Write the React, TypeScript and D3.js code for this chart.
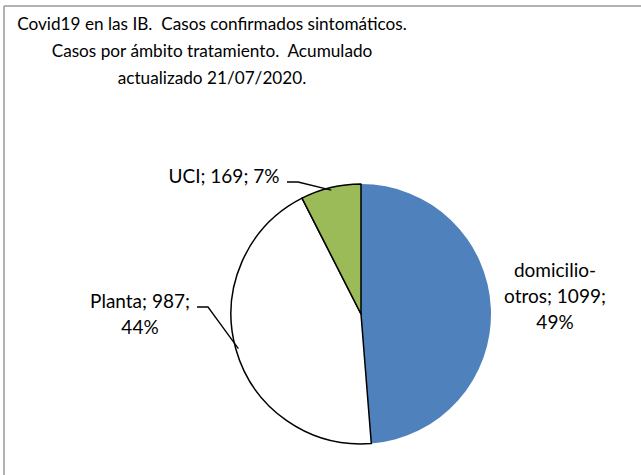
import React from "react";
import { arc, pie, PieArcDatum } from "d3";

// data
const categories = ["domicilio-otros", "Planta", "UCI"];
const values = [1099, 987, 169];
const colors = ["#4F81BD", "#FFFFFF", "#9BBB59"];
const titleLines = [
  "Covid19 en las IB.  Casos confirmados sintomáticos.",
  "Casos por ámbito tratamiento.  Acumulado",
  "actualizado 21/07/2020.",
];

const WIDTH = 641;
const HEIGHT = 475;
const CX = 361;
const CY = 314;
const R = 130;
const FONT = "Lato, 'Open Sans', sans-serif";

type Slice = { name: string; value: number; color: string };

// label layout: anchor of the text block, leader start + elbow (if any)
const labelLayout: { x: number; y: number; elbow?: [number, number]; start?: [number, number] }[] = [
  { x: 555, y: 277 },
  { x: 140, y: 308, start: [197, 307], elbow: [208, 307] },
  { x: 224, y: 183, start: [287, 182], elbow: [298, 182] },
];

export default function App() {
  const data: Slice[] = categories.map((c, i) => ({ name: c, value: values[i], color: colors[i] }));
  const total = values.reduce((a, b) => a + b, 0);

  const arcs = pie<Slice>()
    .sort(null)
    .value(d => d.value)(data);

  const arcGen = arc<PieArcDatum<Slice>>().innerRadius(0).outerRadius(R);

  const labelText = (d: Slice) => {
    const pct = Math.round((d.value / total) * 100) + "%";
    if (d.name === "domicilio-otros") return ["domicilio-", `otros; ${d.value};`, pct];
    if (d.name === "Planta") return [`${d.name}; ${d.value};`, pct];
    return [`${d.name}; ${d.value}; ${pct}`];
  };

  return (
    <div style={{ position: "absolute", left: 0, top: 0 }}>
      <svg width={WIDTH} height={HEIGHT} style={{ display: "block", background: "#fff" }}>
        {/* chart area border (top + left visible) */}
        <line x1={4} y1={6} x2={WIDTH} y2={6} stroke="#9a9a9a" strokeWidth={1.5} />
        <line x1={4} y1={6} x2={4} y2={HEIGHT} stroke="#9a9a9a" strokeWidth={1.5} />

        <g fontFamily={FONT} fontSize={17.2} fill="#000" textAnchor="middle">
          {titleLines.map((t, i) => (
            <text key={i} x={212} y={30 + i * 27} style={{ whiteSpace: "pre" }}>
              {t}
            </text>
          ))}
        </g>

        <g transform={`translate(${CX},${CY})`}>
          {arcs.map((a, i) => (
            <path
              key={i}
              d={arcGen(a)!}
              fill={a.data.color}
              stroke={a.data.name === "domicilio-otros" ? "none" : "#000"}
              strokeWidth={1.5}
              strokeLinejoin="round"
            />
          ))}
        </g>

        {arcs.map((a, i) => {
          const lay = labelLayout[i];
          if (!lay.elbow || !lay.start) return null;
          const mid = (a.startAngle + a.endAngle) / 2;
          const ex = CX + Math.sin(mid) * R * 0.98;
          const ey = CY - Math.cos(mid) * R * 0.98;
          return (
            <polyline
              key={"l" + i}
              points={`${lay.start[0]},${lay.start[1]} ${lay.elbow[0]},${lay.elbow[1]} ${ex},${ey}`}
              fill="none"
              stroke="#000"
              strokeWidth={1.3}
            />
          );
        })}

        <g fontFamily={FONT} fontSize={19} fill="#000" textAnchor="middle">
          {arcs.map((a, i) => {
            const lay = labelLayout[i];
            return labelText(a.data).map((t, j) => (
              <text key={i + "-" + j} x={lay.x} y={lay.y + j * 26}>
                {t}
              </text>
            ));
          })}
        </g>
      </svg>
    </div>
  );
}
